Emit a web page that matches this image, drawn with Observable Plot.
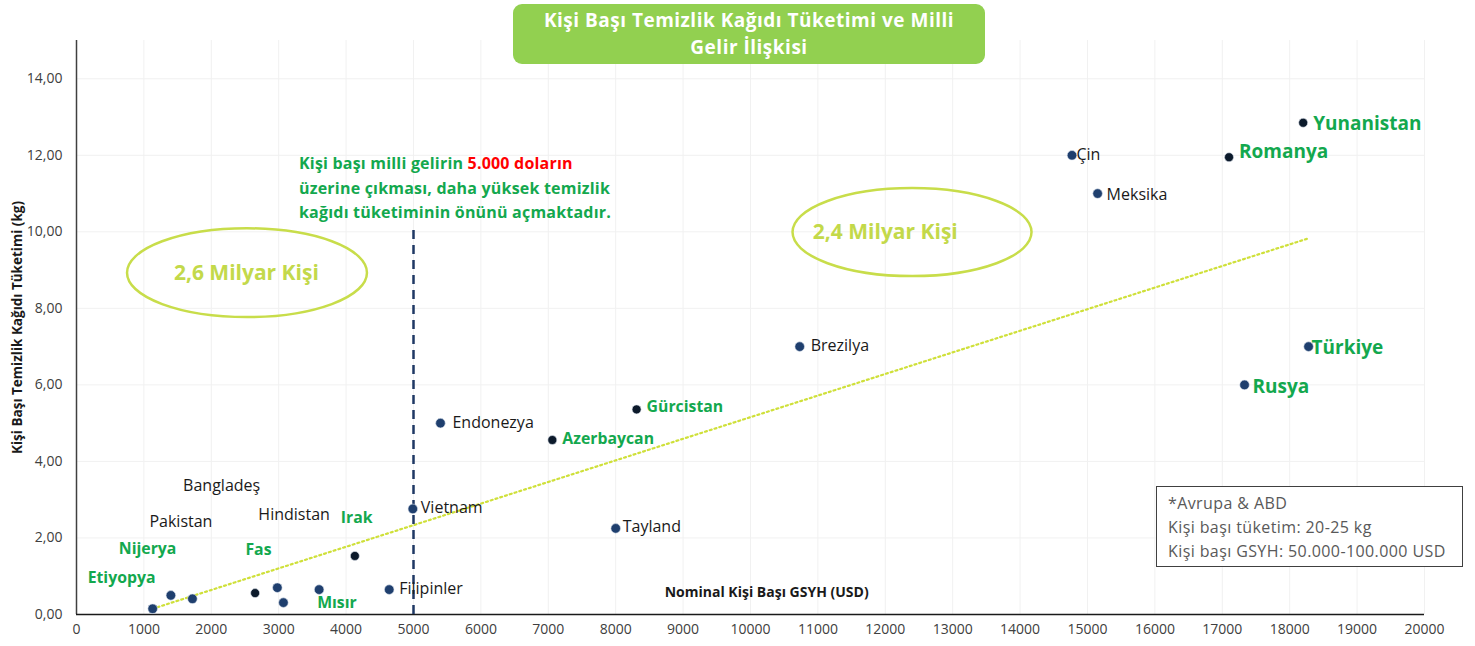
<!DOCTYPE html>
<html><head><meta charset="utf-8">
<script src="https://cdn.jsdelivr.net/npm/d3@7"></script>
<script src="https://cdn.jsdelivr.net/npm/@observablehq/plot@0.6"></script>
<style>
body{margin:0;background:#fff;font-family:"Open Sans",sans-serif;}
#wrap{position:relative;width:1475px;height:646px;overflow:hidden;}
#title{position:absolute;left:513px;top:4px;width:472px;height:60px;background:#92d050;border-radius:9px;color:#fff;font-weight:700;font-size:19px;letter-spacing:0.5px;line-height:27px;text-align:center;display:flex;align-items:center;justify-content:center;z-index:2;}
#note{position:absolute;left:299px;top:151px;color:#13a84e;font-weight:700;font-size:16px;letter-spacing:0.2px;line-height:24.5px;white-space:nowrap;z-index:2;}
#note .red{color:#ff0000;}
#box{position:absolute;left:1156px;top:486px;border:1.5px solid #404040;color:#595959;font-size:16px;letter-spacing:0.4px;line-height:24px;padding:4px 0 0 11px;box-sizing:border-box;width:307px;height:81px;white-space:nowrap;z-index:2;background:#fff;}
</style></head>
<body>
<div id="wrap">
  <div id="title">Kişi Başı Temizlik Kağıdı Tüketimi ve Milli<br>Gelir İlişkisi</div>
  <div id="note">Kişi başı milli gelirin <span class="red">5.000 doların</span><br>üzerine çıkması, daha yüksek temizlik<br>kağıdı tüketiminin önünü açmaktadır.</div>
  <div id="box">*Avrupa &amp; ABD<br>Kişi başı tüketim: 20-25 kg<br>Kişi başı GSYH: 50.000-100.000 USD</div>
</div>
<script>
// ---- data ----
const countries = ["Etiyopya","Nijerya","Pakistan","Bangladeş","Hindistan","Fas","Mısır","Irak","Filipinler","Vietnam","Endonezya","Azerbaycan","Gürcistan","Tayland","Brezilya","Çin","Meksika","Romanya","Yunanistan","Türkiye","Rusya"];
const gdpPerCapita = [1130,1400,1720,2650,2980,3070,3600,4130,4640,4990,5400,7060,8310,8000,10730,14770,15150,17100,18200,18280,17330];
const consumption = [0.15,0.50,0.41,0.56,0.70,0.31,0.65,1.53,0.65,2.76,5.00,4.56,5.36,2.25,7.00,12.00,11.00,11.95,12.85,7.00,6.00];
const trendGdp = [1130,18280];
const trendKg = [0.15,9.83];
const thresholdGdp = 5000;
const xTicks = [0,1000,2000,3000,4000,5000,6000,7000,8000,9000,10000,11000,12000,13000,14000,15000,16000,17000,18000,19000,20000];
const yTicks = [0,2,4,6,8,10,12,14];
const groupLabels = ["2,6 Milyar Kişi","2,4 Milyar Kişi"];

// ---- layout / style ----
const darkDots = ["Bangladeş","Irak","Azerbaycan","Gürcistan","Romanya","Yunanistan"];
const greenLabels = ["Etiyopya","Nijerya","Fas","Mısır","Irak","Azerbaycan","Gürcistan","Romanya","Yunanistan","Türkiye","Rusya"];
const bigLabels = ["Romanya","Yunanistan","Türkiye","Rusya"];
const labelOffsets = {
  "Etiyopya":[-65,-31],"Nijerya":[-52,-46],"Pakistan":[-43,-77],"Bangladeş":[-72,-107],
  "Hindistan":[-19,-73],"Fas":[-38,-53],"Mısır":[-2,13],"Irak":[-14,-38],
  "Filipinler":[10,-1],"Vietnam":[8,-1],"Endonezya":[12,0],"Azerbaycan":[10,-1],
  "Gürcistan":[10,-2],"Tayland":[7,-2],"Brezilya":[11,-1],"Çin":[4.5,0],
  "Meksika":[9,1],"Romanya":[10,-5],"Yunanistan":[10,1],"Türkiye":[3,1],"Rusya":[8,2]
};
const ellipseSpecs = [{cx:2537,cy:8.92,rx:1780,ry:1.16},{cx:12404,cy:9.98,rx:1773,ry:1.15}];
const groupLabelPos = [[2520,8.92],[12000,9.98]];

const data = countries.map((c,i)=>({country:c, gdp:gdpPerCapita[i], kg:consumption[i]}));
const trend = trendGdp.map((g,i)=>({gdp:g, kg:trendKg[i]}));

const labelMarks = data.map(d => {
  const green = greenLabels.includes(d.country);
  const big = bigLabels.includes(d.country);
  const [dx,dy] = labelOffsets[d.country];
  return Plot.text([d], {x:"gdp", y:"kg", text:"country", dx, dy, textAnchor:"start", lineAnchor:"middle",
    fill: green ? "#13a84e" : "#1a1a1a", fontWeight: green ? 700 : 400, fontSize: big ? 19 : (green ? 15.8 : 16)});
});

const chart = Plot.plot({
  width:1475, height:646, marginLeft:76, marginRight:51, marginTop:40, marginBottom:32,
  style:{fontFamily:"Open Sans, sans-serif", fontSize:"14px", color:"#404040", background:"transparent"},
  x:{domain:[0,20000]},
  y:{domain:[0,15]},
  marks:[
    Plot.gridX(xTicks, {stroke:"#f1f1f1", strokeOpacity:1}),
    Plot.gridY(yTicks.filter(t=>t>0), {stroke:"#f1f1f1", strokeOpacity:1}),
    Plot.axisX(xTicks, {tickSize:0, tickPadding:10, tickFormat:d=>String(d), label:null, fontSize:14, fill:"#404040"}),
    Plot.axisY(yTicks, {tickSize:0, tickPadding:14, tickFormat:d=>d.toFixed(2).replace(".",","), label:null, fontSize:14, fill:"#404040"}),
    Plot.ruleX([0], {y1:0, y2:15, stroke:"#404040", strokeWidth:1.5}),
    Plot.ruleY([0], {stroke:"#1a1a1a", strokeWidth:1.5}),
    Plot.line(trend, {x:"gdp", y:"kg", stroke:"#cfe03a", strokeWidth:2.2, strokeDasharray:"2,3"}),
    Plot.ruleX([thresholdGdp], {y1:0, y2:10.1, stroke:"#1f3864", strokeWidth:2.5, strokeDasharray:"9,6"}),
    Plot.dot(data.filter(d=>!darkDots.includes(d.country)), {x:"gdp", y:"kg", r:4.8, fill:"#1f3f6e", stroke:"#dfe6f0", strokeWidth:0.6}),
    Plot.dot(data.filter(d=>darkDots.includes(d.country)), {x:"gdp", y:"kg", r:4.5, fill:"#0c1a2b", stroke:"#dfe6f0", strokeWidth:0.6}),
    ...labelMarks,
    Plot.text(groupLabels.map((t,i)=>({t, x:groupLabelPos[i][0], y:groupLabelPos[i][1]})), {x:"x", y:"y", text:"t", fill:"#c3d94a", fontWeight:700, fontSize:21, lineAnchor:"middle"}),
    Plot.text(["Kişi Başı Temizlik Kağıdı Tüketimi (kg)"], {frameAnchor:"left", textAnchor:"middle", rotate:-90, dx:-59, fontWeight:700, fontSize:13.5, fill:"#1a1a1a"}),
    Plot.text(["Nominal Kişi Başı GSYH (USD)"], {x:()=>10240, y:()=>0.57, fontWeight:700, fontSize:14, fill:"#1a1a1a", lineAnchor:"middle"})
  ]
});

const sx = chart.scale("x"), sy = chart.scale("y");
const svg = d3.select(chart);
ellipseSpecs.forEach(e => {
  svg.append("ellipse")
    .attr("cx", sx.apply(e.cx)).attr("cy", sy.apply(e.cy))
    .attr("rx", sx.apply(e.cx + e.rx) - sx.apply(e.cx))
    .attr("ry", sy.apply(e.cy - e.ry) - sy.apply(e.cy))
    .attr("fill","none").attr("stroke","#c8dd4a").attr("stroke-width",2.5);
});
chart.style.position = "absolute"; chart.style.left = "0"; chart.style.top = "0";
document.getElementById("wrap").appendChild(chart);
</script>
</body></html>
